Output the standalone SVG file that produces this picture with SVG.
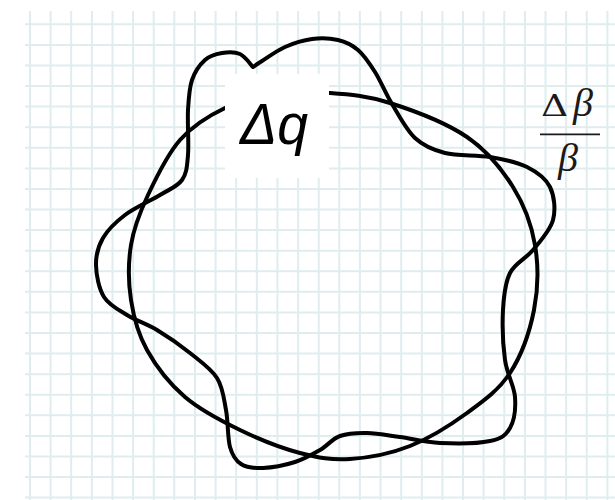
<svg xmlns="http://www.w3.org/2000/svg" width="615" height="500" viewBox="0 0 615 500">
<style>
.grid{stroke:#dfedef;stroke-width:2;fill:none}
.curve{fill:none;stroke:#000;stroke-width:4;stroke-linejoin:round;stroke-linecap:round}
.lbl{font-family:"Liberation Sans",Arial,sans-serif;font-style:italic;font-size:58px;fill:#000}
.math{font-family:"Liberation Serif","Times New Roman",serif;fill:#1a1a1a}
</style>
<rect width="615" height="500" fill="#fff"/>
<g id="grid" class="grid">
<path d="M30,11V500M50.6,11V500M71.2,11V500M91.9,11V500M112.5,11V500M133.1,11V500M153.7,11V500M174.3,11V500M195,11V500M215.6,11V500M236.2,11V500M256.8,11V500M277.4,11V500M298.1,11V500M318.7,11V500M339.3,11V500M359.9,11V500M380.5,11V500M401.2,11V500M421.8,11V500M442.4,11V500M463,11V500M483.6,11V500M504.3,11V500M524.9,11V500M545.5,11V500M566.1,11V500M586.7,11V500M607.4,11V500"/>
<path d="M25,24.3H615M25,44.9H615M25,65.5H615M25,86H615M25,106.6H615M25,127.2H615M25,147.8H615M25,168.4H615M25,189H615M25,209.5H615M25,230.1H615M25,250.7H615M25,271.3H615M25,291.8H615M25,312.4H615M25,333H615M25,353.6H615M25,374.2H615M25,394.7H615M25,415.3H615M25,435.9H615M25,456.5H615M25,477.1H615M25,497.6H615"/>
</g>
<g id="connectors">
<path id="circle" class="curve" d="M275,95 C292.5,92.5 310.8,91.7 330,93 C349.2,94.3 367.2,95.7 390,103 C412.8,110.3 446.5,123 467,137 C487.5,151 501.7,169 513,187 C524.3,205 531.5,224.5 535,245 C538.5,265.5 538.2,288.7 534,310 C529.8,331.3 521.2,355.8 510,373 C498.8,390.2 483.7,400.8 467,413 C450.3,425.2 429.5,438.3 410,446 C390.5,453.7 368.3,457.8 350,459 C331.7,460.2 318.3,457.8 300,453 C281.7,448.2 259.2,439.3 240,430 C220.8,420.7 200.5,410.3 185,397 C169.5,383.7 156,366.2 147,350 C138,333.8 133.7,317.5 131,300 C128.3,282.5 128.2,262.5 131,245 C133.8,227.5 139.8,212.5 148,195 C156.2,177.5 167.2,154.5 180,140 C192.8,125.5 209.2,115.5 225,108 C240.8,100.5 257.5,97.5 275,95 Z"/>
<path id="wavy" class="curve" d="M253,67 C254.5,66 256.7,64.3 262,61 C267.3,57.7 276.7,50.7 285,47 C293.3,43.3 303.2,40.2 312,39 C320.8,37.8 330.3,38.2 338,40 C345.7,41.8 351.8,44.7 358,50 C364.2,55.3 369.3,63 375,72 C380.7,81 385.3,93 392,104 C398.7,115 406.2,129.8 415,138 C423.8,146.2 432.5,149.8 445,153 C457.5,156.2 476.3,154.7 490,157 C503.7,159.3 517,162 527,167 C537,172 545.7,178.2 550,187 C554.3,195.8 555.8,209.5 553,220 C550.2,230.5 540.2,241.2 533,250 C525.8,258.8 515,263 510,273 C505,283 503.8,295.5 503,310 C502.2,324.5 503,345.5 505,360 C507,374.5 514.2,385.7 515,397 C515.8,408.3 514.2,420.7 510,428 C505.8,435.3 501.7,438.5 490,441 C478.3,443.5 455,443.7 440,443 C425,442.3 412.2,438.7 400,437 C387.8,435.3 377,433.2 367,433 C357,432.8 347.8,433.2 340,436 C332.2,438.8 327.5,445.7 320,450 C312.5,454.3 304.5,459 295,462 C285.5,465 272,467.7 263,468 C254,468.3 246.5,467.5 241,464 C235.5,460.5 232.5,456 230,447 C227.5,438 228.2,421.5 226,410 C223.8,398.5 223,387.5 217,378 C211,368.5 200,361 190,353 C180,345 167.5,336.3 157,330 C146.5,323.7 135.8,320.5 127,315 C118.2,309.5 109.2,305.3 104,297 C98.8,288.7 96.2,274.8 96,265 C95.8,255.2 98.2,246.3 103,238 C107.8,229.7 115.5,222.2 125,215 C134.5,207.8 150.5,200.8 160,195 C169.5,189.2 177.3,186.7 182,180 C186.7,173.3 187,166.7 188,155 C189,143.3 187.3,122.5 188,110 C188.7,97.5 189.2,88.3 192,80 C194.8,71.7 200,64.5 205,60 C210,55.5 216.2,54 222,53 C227.8,52 234.8,51.7 240,54 C245.2,56.3 250.8,64.8 253,67 Z"/>
</g>
<g id="label-dq">
<rect x="225" y="74" width="104" height="104" fill="#fff"/>
<text class="lbl" x="240" y="143.5" textLength="68" lengthAdjust="spacingAndGlyphs">Δq</text>
</g>
<g id="label-fraction">
<text transform="translate(541,115.7) scale(1.3,1)" font-family="'DejaVu Serif',serif" font-size="29" fill="#1a1a1a">Δ</text>
<text class="math" x="573" y="115.7" font-size="40" font-style="italic">β</text>
<line x1="540" y1="134.3" x2="600" y2="134.3" stroke="#1a1a1a" stroke-width="1.8"/>
<text class="math" x="558" y="171" font-size="40" font-style="italic">β</text>
</g>
</svg>
